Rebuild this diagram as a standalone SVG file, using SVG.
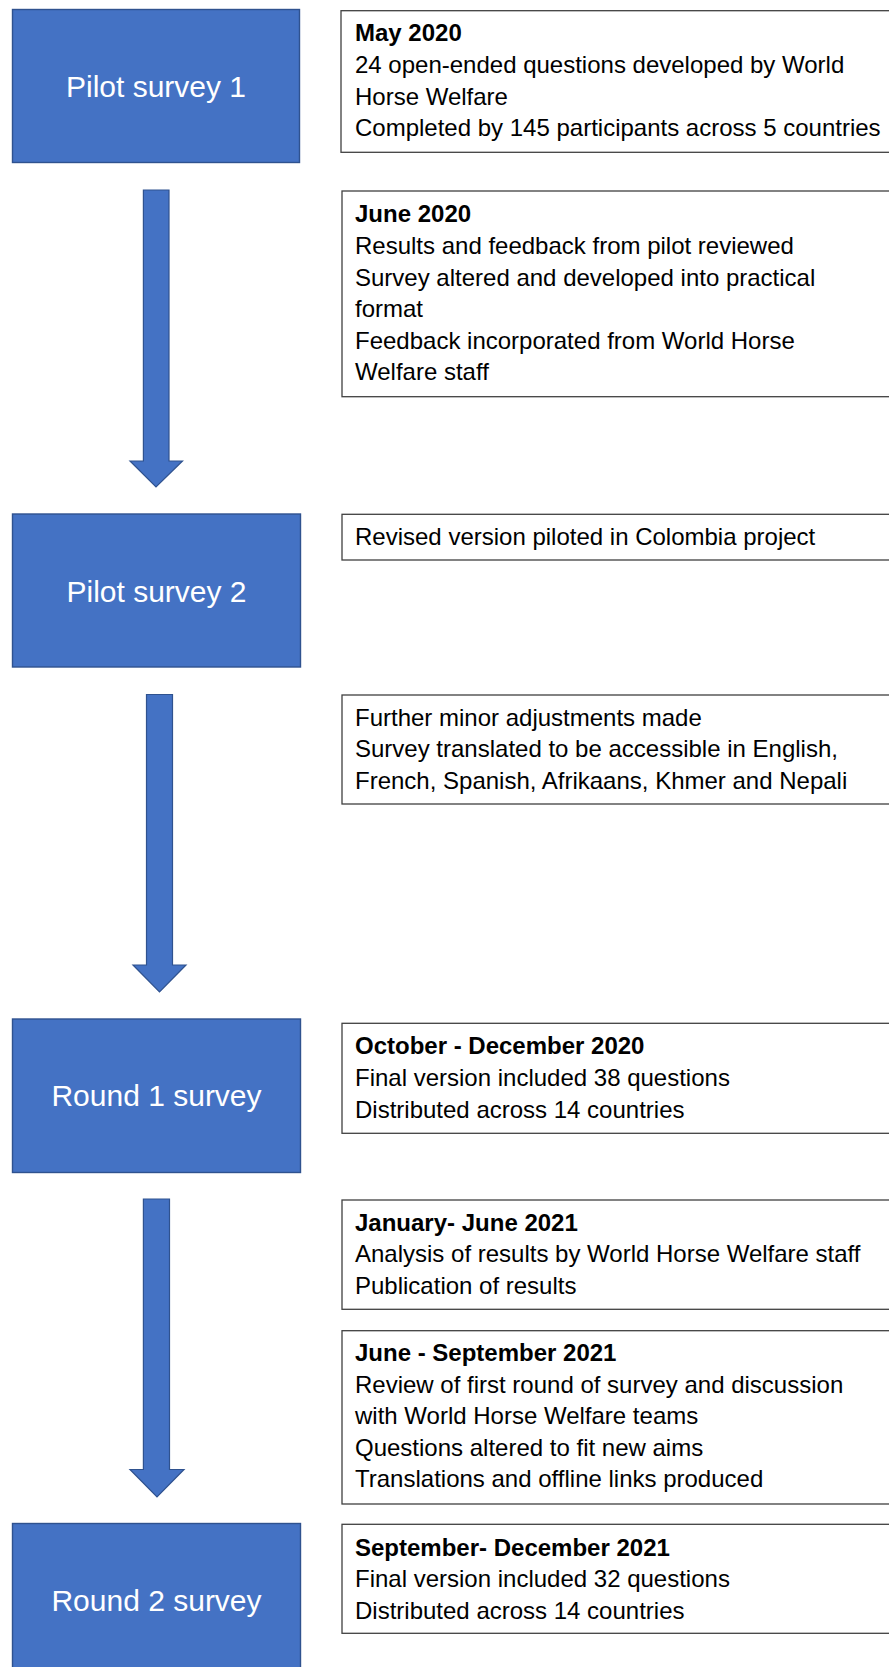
<svg xmlns="http://www.w3.org/2000/svg" width="889" height="1667" viewBox="0 0 889 1667">
<style>
.stage{fill:#4472C4;stroke:#2F528F;stroke-width:1.4}
.stage-label{font-family:"Liberation Sans",Arial,sans-serif;font-size:30px;fill:#ffffff;text-anchor:middle}
.note{fill:#ffffff;stroke:#404040;stroke-width:1.3}
.note-text{font-family:"Liberation Sans",Arial,sans-serif;font-size:24px;fill:#000000}
.bold{font-weight:bold}
.arrow{fill:#4472C4;stroke:#2F528F;stroke-width:1.2}
</style>
<rect width="889" height="1667" fill="#ffffff"/>
<g id="connectors">
<polygon class="arrow" points="143.4,190 169,190 169,461 182.5,461 156,487 130,461 143.4,461"/>
<polygon class="arrow" points="146.5,694.5 172.5,694.5 172.5,965 186,965 159.5,992 133,965 146.5,965"/>
<polygon class="arrow" points="143.4,1199 169.5,1199 169.5,1469.5 184,1469.5 157,1497 130,1469.5 143.4,1469.5"/>
</g>
<g id="pilot1">
<rect class="stage" x="12.5" y="9.5" width="287" height="153"/>
<text class="stage-label" x="156" y="97">Pilot survey 1</text>
</g>
<g id="pilot2">
<rect class="stage" x="12.5" y="514" width="288" height="153"/>
<text class="stage-label" x="156.5" y="601.5">Pilot survey 2</text>
</g>
<g id="round1">
<rect class="stage" x="12.5" y="1019" width="288" height="153.5"/>
<text class="stage-label" x="156.5" y="1106">Round 1 survey</text>
</g>
<g id="round2">
<rect class="stage" x="12.5" y="1523.5" width="288" height="154"/>
<text class="stage-label" x="156.5" y="1611">Round 2 survey</text>
</g>
<g id="note-may2020">
<rect class="note" x="341" y="10.7" width="560" height="141.6"/>
<text class="note-text" x="355"><tspan class="bold" x="355" y="41">May 2020</tspan><tspan x="355" y="73">24 open-ended questions developed by World</tspan><tspan x="355" y="104.5">Horse Welfare</tspan><tspan x="355" y="136">Completed by 145 participants across 5 countries</tspan></text>
</g>
<g id="note-june2020">
<rect class="note" x="342" y="191" width="560" height="205.7"/>
<text class="note-text" x="355"><tspan class="bold" x="355" y="222">June 2020</tspan><tspan x="355" y="254">Results and feedback from pilot reviewed</tspan><tspan x="355" y="285.7">Survey altered and developed into practical</tspan><tspan x="355" y="317">format</tspan><tspan x="355" y="348.5">Feedback incorporated from World Horse</tspan><tspan x="355" y="380">Welfare staff</tspan></text>
</g>
<g id="note-colombia">
<rect class="note" x="342" y="514.3" width="560" height="45.7"/>
<text class="note-text" x="355" y="545">Revised version piloted in Colombia project</text>
</g>
<g id="note-translation">
<rect class="note" x="342" y="695" width="560" height="109"/>
<text class="note-text" x="355"><tspan x="355" y="725.5">Further minor adjustments made</tspan><tspan x="355" y="757.3">Survey translated to be accessible in English,</tspan><tspan x="355" y="789">French, Spanish, Afrikaans, Khmer and Nepali</tspan></text>
</g>
<g id="note-oct2020">
<rect class="note" x="342" y="1023.3" width="560" height="110"/>
<text class="note-text" x="355"><tspan class="bold" x="355" y="1053.5">October - December 2020</tspan><tspan x="355" y="1086">Final version included 38 questions</tspan><tspan x="355" y="1117.5">Distributed across 14 countries</tspan></text>
</g>
<g id="note-jan2021">
<rect class="note" x="342" y="1200" width="560" height="109.3"/>
<text class="note-text" x="355"><tspan class="bold" x="355" y="1231">January- June 2021</tspan><tspan x="355" y="1262">Analysis of results by World Horse Welfare staff</tspan><tspan x="355" y="1293.5">Publication of results</tspan></text>
</g>
<g id="note-jun2021">
<rect class="note" x="342" y="1330.7" width="560" height="173.3"/>
<text class="note-text" x="355"><tspan class="bold" x="355" y="1360.5">June - September 2021</tspan><tspan x="355" y="1392.7">Review of first round of survey and discussion</tspan><tspan x="355" y="1424">with World Horse Welfare teams</tspan><tspan x="355" y="1455.7">Questions altered to fit new aims</tspan><tspan x="355" y="1487.3">Translations and offline links produced</tspan></text>
</g>
<g id="note-sep2021">
<rect class="note" x="342" y="1524.3" width="560" height="109"/>
<text class="note-text" x="355"><tspan class="bold" x="355" y="1555.5">September- December 2021</tspan><tspan x="355" y="1587.3">Final version included 32 questions</tspan><tspan x="355" y="1618.5">Distributed across 14 countries</tspan></text>
</g>
</svg>
